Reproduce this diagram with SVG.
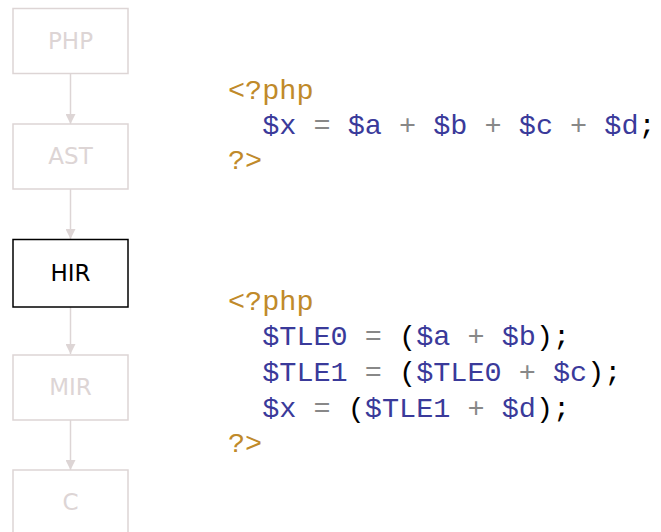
<svg xmlns="http://www.w3.org/2000/svg" width="661" height="532" viewBox="0 0 661 532" xml:space="preserve">
<defs>
<style>
.box{fill:#fff;stroke:#ddd5d5;stroke-width:1.5}
.lbl{font-family:"DejaVu Sans",sans-serif;font-size:23px;text-anchor:middle;fill:#ddd5d5}
.conn{stroke:#ddd5d5;stroke-width:1.5;fill:none}
.code{font-family:"Liberation Mono",monospace;font-size:28.5px;white-space:pre}
.code text{white-space:pre}
.k{fill:#c08a2a}
.v{fill:#3a3a9a}
.o{fill:#888}
.p{fill:#000}
</style>
<marker id="ah" markerWidth="10" markerHeight="10" refX="10" refY="5" orient="auto" markerUnits="userSpaceOnUse">
<path d="M0,0 L10,5 L0,10 z" fill="#ddd5d5"/>
</marker>
</defs>
<rect width="661" height="532" fill="#fff"/>
<g id="connectors">
<line class="conn" x1="70.5" y1="74" x2="70.5" y2="124" marker-end="url(#ah)"/>
<line class="conn" x1="70.5" y1="189" x2="70.5" y2="239" marker-end="url(#ah)"/>
<line class="conn" x1="70.5" y1="307" x2="70.5" y2="354" marker-end="url(#ah)"/>
<line class="conn" x1="70.5" y1="420" x2="70.5" y2="470" marker-end="url(#ah)"/>
</g>
<g id="php"><rect class="box" x="13" y="8.5" width="115" height="65"/><text class="lbl" x="70.5" y="49">PHP</text></g>
<g id="ast"><rect class="box" x="13" y="124" width="115" height="65"/><text class="lbl" x="70.5" y="164">AST</text></g>
<g id="hir"><rect x="13" y="239.5" width="115" height="67.5" fill="#fff" stroke="#000" stroke-width="1.5"/><text class="lbl" x="70.5" y="281" style="fill:#000">HIR</text></g>
<g id="mir"><rect class="box" x="13" y="355" width="115" height="65"/><text class="lbl" x="70.5" y="395">MIR</text></g>
<g id="c"><rect class="box" x="13" y="470" width="115" height="70"/><text class="lbl" x="70.5" y="510">C</text></g>
<g id="code1" class="code">
<text x="228" y="99"><tspan class="k">&lt;?php</tspan></text>
<text x="228" y="134"><tspan class="v">  $x</tspan><tspan class="o"> = </tspan><tspan class="v">$a</tspan><tspan class="o"> + </tspan><tspan class="v">$b</tspan><tspan class="o"> + </tspan><tspan class="v">$c</tspan><tspan class="o"> + </tspan><tspan class="v">$d</tspan><tspan class="p">;</tspan></text>
<text x="228" y="169"><tspan class="k">?&gt;</tspan></text>
</g>
<g id="code2" class="code">
<text x="228" y="310"><tspan class="k">&lt;?php</tspan></text>
<text x="228" y="345"><tspan class="v">  $TLE0</tspan><tspan class="o"> = </tspan><tspan class="p">(</tspan><tspan class="v">$a</tspan><tspan class="o"> + </tspan><tspan class="v">$b</tspan><tspan class="p">);</tspan></text>
<text x="228" y="381"><tspan class="v">  $TLE1</tspan><tspan class="o"> = </tspan><tspan class="p">(</tspan><tspan class="v">$TLE0</tspan><tspan class="o"> + </tspan><tspan class="v">$c</tspan><tspan class="p">);</tspan></text>
<text x="228" y="417"><tspan class="v">  $x</tspan><tspan class="o"> = </tspan><tspan class="p">(</tspan><tspan class="v">$TLE1</tspan><tspan class="o"> + </tspan><tspan class="v">$d</tspan><tspan class="p">);</tspan></text>
<text x="228" y="452"><tspan class="k">?&gt;</tspan></text>
</g>
</svg>
